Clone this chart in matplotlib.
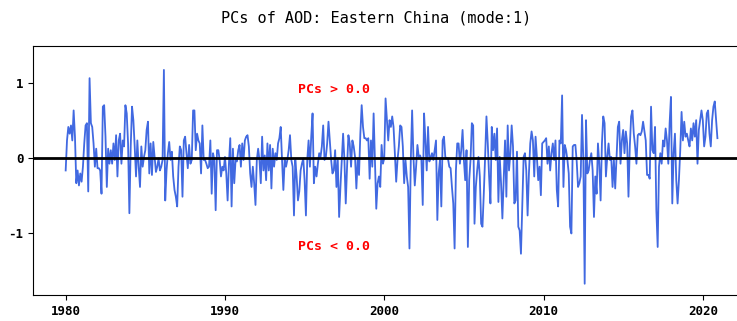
import numpy as np
import matplotlib
matplotlib.use("Agg")
import matplotlib.pyplot as plt

# monthly PC1 values, one list per decade
pc_1980s = [
    -0.16, 0.24, 0.42, 0.33, 0.44, 0.24, 0.64, 0.29, -0.33, -0.16, -0.36, -0.20,
    -0.31, -0.11, 0.20, 0.44, 0.47, -0.44, 1.07, 0.47, 0.42, 0.20, -0.11, 0.13,
    -0.13, -0.13, -0.16, -0.47, 0.69, 0.71, 0.29, -0.38, 0.13, -0.07, 0.11, -0.07,
    0.20, -0.02, 0.31, -0.24, 0.24, 0.33, -0.07, 0.24, 0.16, 0.71, 0.60, 0.20,
    -0.73, 0.16, 0.69, 0.51, 0.16, -0.24, 0.24, -0.11, -0.38, 0.16, -0.11, 0.02,
    0.11, 0.38, 0.49, -0.20, 0.20, -0.22, 0.22, 0.02, -0.18, -0.11, 0.00, -0.16,
    -0.11, -0.02, 1.18, -0.56, -0.16, 0.07, 0.22, -0.02, 0.09, -0.24, -0.42, -0.51,
    -0.64, -0.11, 0.16, 0.11, -0.51, 0.24, 0.29, 0.07, -0.13, 0.18, -0.07, -0.02,
    0.64, 0.64, 0.11, 0.33, 0.24, 0.20, -0.20, 0.44, -0.02, -0.02, -0.07, -0.13,
    -0.11, 0.24, -0.47, 0.07, -0.02, -0.69, 0.11, 0.11, -0.02, -0.24, -0.11, -0.16,
]
pc_1990s = [
    0.02, -0.20, -0.56, -0.07, 0.27, -0.64, 0.13, -0.33, -0.02, -0.04, 0.11, 0.18,
    -0.11, 0.20, -0.02, 0.24, 0.29, 0.31, 0.16, -0.20, -0.38, -0.11, -0.33, -0.62,
    -0.02, 0.13, -0.02, -0.33, 0.29, -0.16, 0.04, -0.29, 0.20, -0.16, 0.18, -0.40,
    0.13, -0.11, 0.07, -0.02, 0.20, 0.27, 0.42, -0.02, -0.42, -0.02, -0.11, -0.02,
    0.11, 0.31, -0.02, -0.11, -0.76, -0.02, -0.24, -0.56, -0.44, -0.16, -0.07, 0.00,
    -0.29, -0.76, -0.02, 0.24, -0.11, 0.29, 0.60, -0.33, -0.11, -0.24, -0.07, 0.07,
    0.02, 0.16, 0.44, -0.02, 0.02, 0.20, 0.49, 0.24, -0.02, -0.20, -0.16, 0.11,
    -0.38, -0.02, -0.78, -0.38, -0.02, 0.33, -0.02, -0.60, -0.11, 0.31, 0.20, -0.11,
    0.24, 0.16, 0.02, -0.40, -0.02, -0.22, 0.33, 0.71, 0.42, 0.27, 0.27, 0.24,
    0.27, -0.27, 0.24, -0.11, 0.60, -0.02, -0.67, -0.33, -0.24, -0.38, 0.18, -0.07,
]
pc_2000s = [
    0.00, 0.80, 0.51, 0.24, 0.51, 0.42, 0.56, 0.42, 0.07, -0.31, -0.02, 0.16,
    0.44, 0.42, 0.16, -0.33, -0.02, -0.24, -0.38, -1.20, -0.02, 0.64, 0.02, -0.36,
    -0.11, 0.18, 0.02, 0.04, -0.02, -0.62, 0.60, 0.24, -0.16, 0.42, -0.04, 0.02,
    0.07, -0.02, 0.11, 0.24, -0.82, -0.20, -0.02, -0.64, 0.24, 0.29, 0.02, 0.00,
    0.00, -0.11, -0.13, -0.38, -0.60, -1.20, -0.16, 0.20, 0.20, -0.07, 0.11, 0.38,
    -0.02, -0.29, 0.11, -1.18, -0.29, -0.02, 0.47, 0.44, -0.87, -0.38, -0.16, 0.02,
    -0.24, -0.87, -0.91, -0.47, 0.02, 0.56, 0.20, -0.24, -0.60, 0.42, 0.11, 0.33,
    -0.02, 0.40, -0.58, 0.02, -0.33, -0.80, -0.29, 0.24, -0.51, 0.44, -0.16, 0.07,
    0.44, 0.16, -0.60, -0.56, 0.09, -0.91, -0.96, -1.27, -0.60, 0.02, 0.07, -0.16,
    -0.76, -0.20, 0.20, 0.36, 0.24, -0.24, 0.29, 0.02, -0.29, -0.11, -0.49, 0.20,
]
pc_2010s = [
    0.22, 0.24, 0.27, -0.07, 0.16, -0.16, 0.07, 0.20, -0.02, 0.24, -0.42, -0.64,
    0.24, 0.20, 0.84, -0.38, 0.18, 0.11, -0.02, -0.20, -0.91, -1.00, 0.16, 0.18,
    0.18, -0.04, -0.38, -0.33, -0.24, 0.58, -0.02, -1.67, 0.51, -0.20, -0.16, -0.02,
    0.07, -0.16, -0.78, -0.24, -0.47, 0.20, -0.07, -0.56, 0.20, 0.56, 0.47, -0.24,
    0.02, 0.20, -0.02, 0.02, -0.38, -0.02, -0.40, 0.02, 0.42, 0.49, -0.07, 0.24,
    0.38, 0.07, 0.36, 0.20, -0.51, 0.16, 0.56, 0.64, 0.33, 0.16, -0.07, 0.31,
    0.33, 0.31, 0.36, 0.49, 0.36, 0.24, -0.22, -0.22, -0.27, 0.69, 0.11, 0.07,
    0.42, -0.69, -1.18, -0.11, 0.07, -0.07, 0.24, 0.16, 0.40, 0.24, -0.07, 0.47,
    0.82, -0.60, 0.07, 0.33, -0.29, -0.60, -0.29, 0.11, 0.62, 0.24, 0.49, 0.29,
    0.33, 0.24, 0.16, 0.40, 0.24, 0.47, 0.29, 0.51, -0.07, 0.38, 0.51, 0.64,
    0.51, 0.16, 0.29, 0.60, 0.64, 0.33, 0.16, 0.51, 0.69, 0.76, 0.51, 0.27,
]
start_year = 1980
year_ticks = [1980, 1990, 2000, 2010, 2020]
pc_ticks = [-1, 0, 1]

pcs = np.array(pc_1980s + pc_1990s + pc_2000s + pc_2010s)
time = start_year + np.arange(len(pcs)) / 12.0

plt.rcParams['font.family'] = ['DejaVu Sans Mono']
plt.rcParams['axes.unicode_minus'] = False

fig = plt.figure(figsize=(7.37, 3.21), dpi=100)
ax = fig.add_axes([0.0448, 0.081, 0.973, 0.776])

ax.plot(time, pcs, color='royalblue', lw=1.3)
ax.axhline(0, color='k', lw=2)

ax.text(1994.6, 0.92, 'PCs > 0.0', color='red', fontsize=9.5,
        fontweight='bold', va='center', ha='left')
ax.text(1994.6, -1.17, 'PCs < 0.0', color='red', fontsize=9.5,
        fontweight='bold', va='center', ha='left')

ax.set_xlim(1977.95, 2022.97)
ax.set_ylim(-1.82, 1.5)
ax.set_xticks(year_ticks)
ax.set_yticks(pc_ticks)
for lbl in ax.get_xticklabels() + ax.get_yticklabels():
    lbl.set_fontweight('bold')
    lbl.set_fontsize(9)

fig.text(0.51, 0.944, 'PCs of AOD: Eastern China (mode:1)',
         ha='center', va='center', fontsize=11)

fig.savefig('out.png', dpi=100)
